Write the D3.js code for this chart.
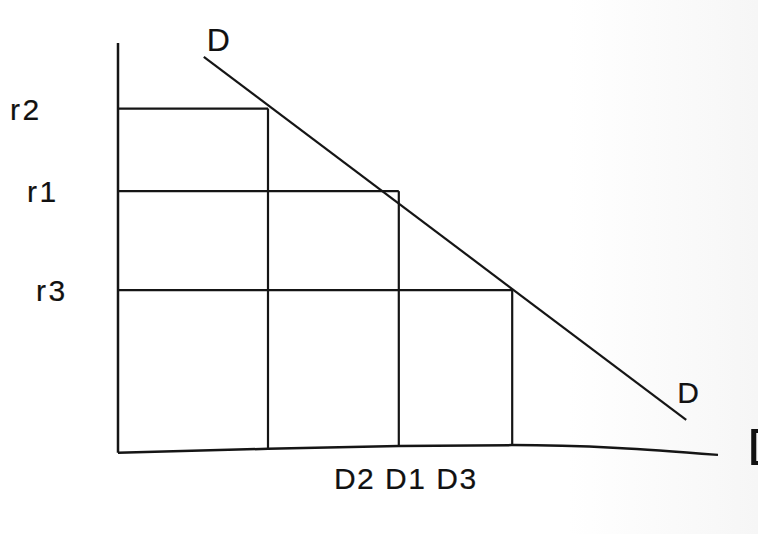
<!DOCTYPE html>
<html>
<head>
<meta charset="utf-8">
<script src="https://d3js.org/d3.v7.min.js"></script>
<style>
  body { margin: 0; background: #fff; }
  svg { display: block; }
  text { stroke: #111; stroke-width: 0.2px; }
</style>
</head>
<body>
<script>
// Set Dimensions
const width  = 758;
const height = 534;

// Data (abstract units: quantity 0-100, rate 0-100)
const qLabels   = ["D2", "D1", "D3"];
const qValues   = [25, 46.8, 65.7];
const rLabels   = ["r2", "r1", "r3"];
const rValues   = [83.9, 63.6, 39.3];
// demand curve end points [q, r]
const demandPts = [[14.3, 96.6], [94.7, 7.4]];
// hand drawn quantity axis, slightly bowed [q, r]
const baseline  = [[0, -0.7], [25, 0.3], [46.8, 1.0], [65.7, 1.2], [83.3, 0.5], [100, -1.2]];
const axisTop   = 100;

// Scales
const x = d3.scaleLinear().domain([0, 100]).range([118, 718]);
const y = d3.scaleLinear().domain([0, 100]).range([450, 43]);

// baseline height at a given q
const baseAt = d3.scaleLinear().domain(baseline.map(d => d[0])).range(baseline.map(d => d[1]));

const svg = d3.select("body").append("svg")
  .attr("width", width)
  .attr("height", height);

// faint scanner shading on the right
const defs = svg.append("defs");
const grad = defs.append("linearGradient").attr("id", "shade")
  .attr("x1", "0%").attr("x2", "100%").attr("y1", "0%").attr("y2", "0%");
grad.append("stop").attr("offset", "75%").attr("stop-color", "#ffffff");
grad.append("stop").attr("offset", "100%").attr("stop-color", "#f6f6f6");
svg.append("rect").attr("width", width).attr("height", height).attr("fill", "url(#shade)");

const ink = "#151515";

// y axis
svg.append("line")
  .attr("x1", x(0)).attr("x2", x(0))
  .attr("y1", y(axisTop)).attr("y2", y(baseline[0][1]))
  .attr("stroke", ink).attr("stroke-width", 2.5);

// x axis
svg.append("path")
  .datum(baseline)
  .attr("fill", "none")
  .attr("stroke", ink)
  .attr("stroke-width", 2.5)
  .attr("d", d3.line().x(d => x(d[0])).y(d => y(d[1])).curve(d3.curveMonotoneX));

// rate / quantity boxes
const boxes = qValues.map((q, i) => ({ q: q, r: rValues[i] }));

svg.selectAll(".hline").data(boxes).enter().append("line")
  .attr("class", "hline")
  .attr("x1", x(0)).attr("x2", d => x(d.q))
  .attr("y1", d => y(d.r)).attr("y2", d => y(d.r))
  .attr("stroke", ink).attr("stroke-width", 2.2);

svg.selectAll(".vline").data(boxes).enter().append("line")
  .attr("class", "vline")
  .attr("x1", d => x(d.q)).attr("x2", d => x(d.q))
  .attr("y1", d => y(d.r)).attr("y2", d => y(baseAt(d.q)))
  .attr("stroke", ink).attr("stroke-width", 2.2);

// demand line
svg.append("path")
  .datum(demandPts)
  .attr("fill", "none")
  .attr("stroke", ink)
  .attr("stroke-width", 2.2)
  .attr("d", d3.line().x(d => x(d[0])).y(d => y(d[1])));

// Labels
const font = "Liberation Sans, Arial, sans-serif";
const txt  = "#111";
const rLabelX = [10, 27, 36];

svg.selectAll(".rlab").data(rLabels).enter().append("text")
  .attr("class", "rlab")
  .attr("x", (d, i) => rLabelX[i])
  .attr("y", (d, i) => y(rValues[i]) + 11)
  .attr("font-family", font)
  .attr("font-size", 30)
  .attr("letter-spacing", 2.5)
  .attr("fill", txt)
  .text(d => d);

svg.append("text")
  .attr("x", x(46.8) + 7)
  .attr("y", 489)
  .attr("text-anchor", "middle")
  .attr("font-family", font)
  .attr("font-size", 30)
  .attr("letter-spacing", 1.5)
  .attr("fill", txt)
  .text(qLabels.join(" "));

// D labels on the demand line
svg.append("text")
  .attr("x", x(demandPts[0][0]) + 3)
  .attr("y", y(demandPts[0][1]) - 6)
  .attr("font-family", font)
  .attr("font-size", 32)
  .attr("fill", txt)
  .text("D");

svg.append("text")
  .attr("x", x(demandPts[1][0]) - 9)
  .attr("y", y(demandPts[1][1]) - 17)
  .attr("font-family", font)
  .attr("font-size", 30)
  .attr("fill", txt)
  .text("D");

// cut-off D at the end of the quantity axis (clipped by the page edge, as in the source)
svg.append("text")
  .attr("x", 747)
  .attr("y", 465)
  .attr("font-family", font)
  .attr("font-size", 52)
  .attr("fill", txt)
  .text("D");
</script>
</body>
</html>
